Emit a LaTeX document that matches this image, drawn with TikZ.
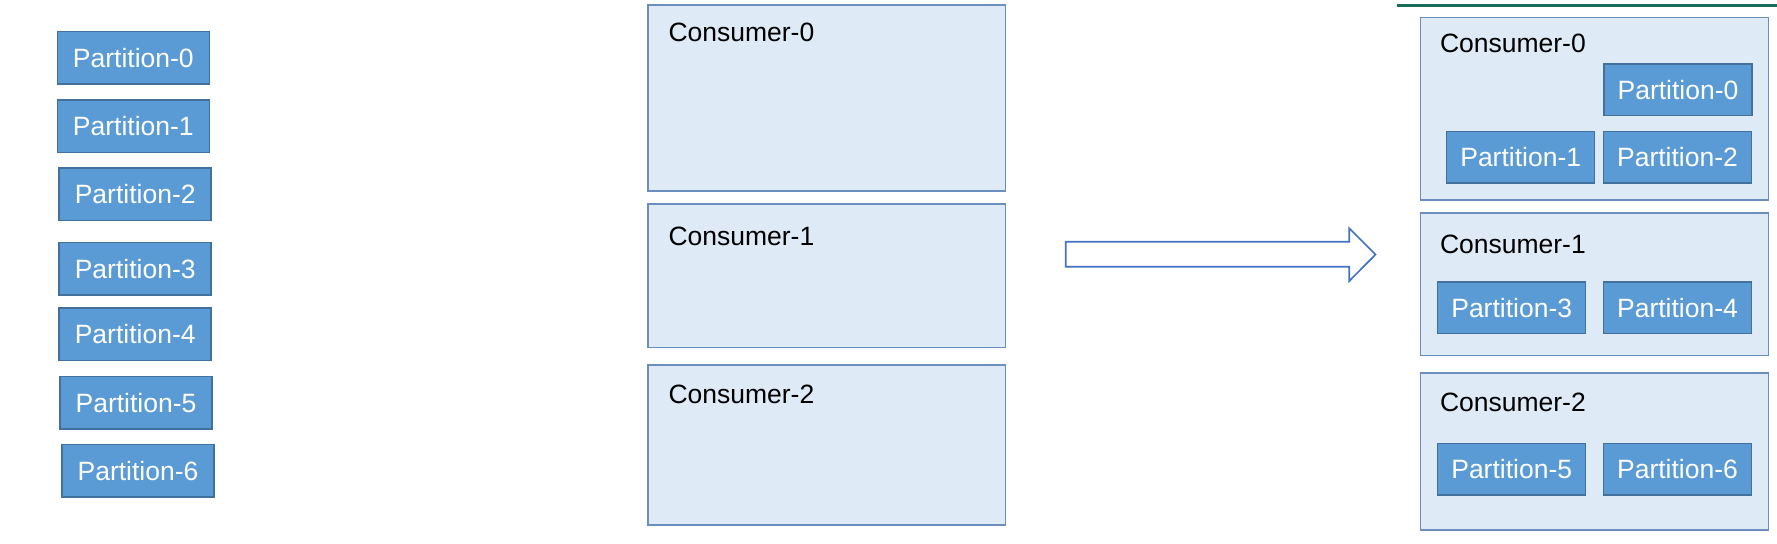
\documentclass[tikz,border=0pt]{standalone}
\usepackage{fontspec}
\setmainfont{Liberation Sans}
\definecolor{pfill}{HTML}{5B9BD5}
\definecolor{pdraw}{HTML}{41719C}
\definecolor{cfill}{HTML}{DEEAF6}
\definecolor{cdraw}{HTML}{6C8EBF}
\definecolor{arrowblue}{HTML}{4472C4}
\definecolor{topline}{HTML}{1B6B5A}
\begin{document}
\begin{tikzpicture}[x=0.5pt,y=-0.5pt,
  every node/.style={inner sep=0pt,outer sep=0pt,font=\fontsize{13.25}{16}\selectfont},
  pbox/.style={draw=pdraw,fill=pfill,line width=0.75pt,text=white,anchor=north west,minimum width=76pt,minimum height=26.25pt},
  rpbox/.style={pbox,minimum width=74pt,minimum height=25.75pt},
  cbox/.style={draw=cdraw,fill=cfill,line width=0.75pt,anchor=north west,minimum width=178.85pt},
  rcbox/.style={cbox,minimum width=173.9pt},
  clabel/.style={anchor=base west,text=black}]
\useasboundingbox (0,0) rectangle (1777,543);
% top line
\draw[topline,line width=1.5pt] (1397,5.7) -- (1777,5.7);
% left column
\node[pbox] (l0) at (57.3,31.7) {Partition-0};
\node[pbox] (l1) at (57.3,100) {Partition-1};
\node[pbox] (l2) at (59.2,168) {Partition-2};
\node[pbox] (l3) at (59.2,242.4) {Partition-3};
\node[pbox] (l4) at (59.2,308) {Partition-4};
\node[pbox] (l5) at (60,376.5) {Partition-5};
\node[pbox] (l6) at (62,444.5) {Partition-6};
% middle consumers
\node[cbox,minimum height=93pt] (m0) at (648,5) {};
\node[cbox,minimum height=71.85pt] (m1) at (648,204) {};
\node[cbox,minimum height=80pt] (m2) at (648,365) {};
\node[clabel] (m0t) at (668.5,41.5) {Consumer-0};
\node[clabel] (m1t) at (668.5,245) {Consumer-1};
\node[clabel] (m2t) at (668.5,403.5) {Consumer-2};
% block arrow
\coordinate (as) at (1065.7,254.2);
\coordinate (at) at (1375.5,254.5);
\draw[arrowblue,fill=white,line width=0.85pt,line join=miter]
  (1065.7,241.7) -- (1349.3,241.7) -- (1349.3,228.3) -- (at)
  -- (1349.3,281) -- (1349.3,266.8) -- (1065.7,266.8) -- cycle;
% right consumers
\node[rcbox,minimum height=91.25pt] (r0) at (1420.7,17.5) {};
\node[rcbox,minimum height=71.3pt] (r1) at (1420.7,212.9) {};
\node[rcbox,minimum height=78.5pt] (r2) at (1420.7,373) {};
\node[clabel] (r0t) at (1440,52.8) {Consumer-0};
\node[clabel] (r1t) at (1440,253.3) {Consumer-1};
\node[clabel] (r2t) at (1440,411.5) {Consumer-2};
\node[rpbox] (rp0) at (1604,63.8) {Partition-0};
\node[rpbox] (rp1) at (1446.7,131.3) {Partition-1};
\node[rpbox] (rp2) at (1603.5,131.3) {Partition-2};
\node[rpbox] (rp3) at (1437.7,282) {Partition-3};
\node[rpbox] (rp4) at (1603.5,282) {Partition-4};
\node[rpbox] (rp5) at (1437.7,443.5) {Partition-5};
\node[rpbox] (rp6) at (1603.5,443.5) {Partition-6};
\end{tikzpicture}
\end{document}
